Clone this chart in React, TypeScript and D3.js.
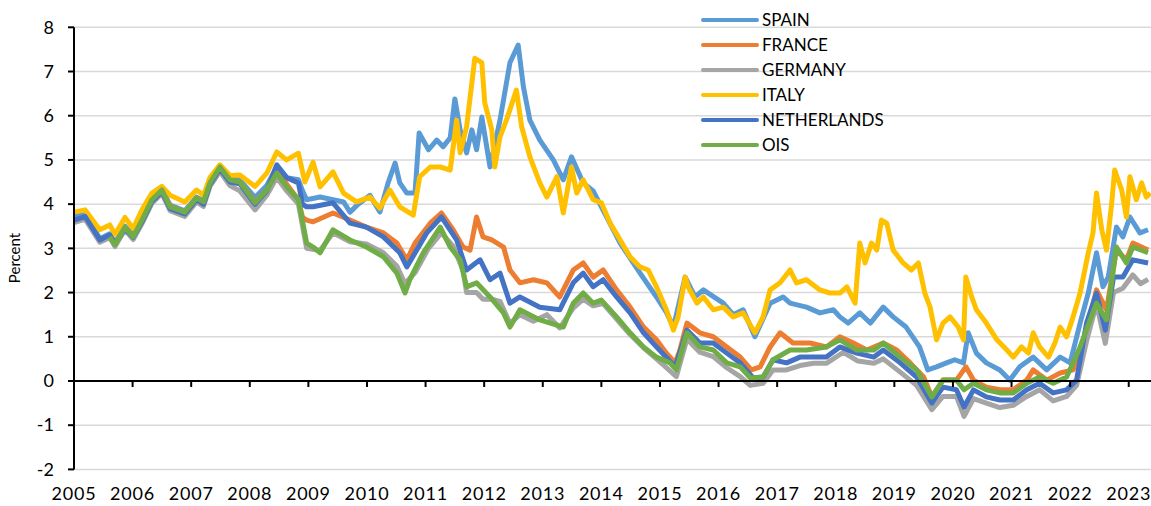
import React from "react";
import * as d3 from "d3";

// chart size
const W = 1151;
const H = 506;

// 10-year government bond yields vs OIS, percent
const seriesNames = ["SPAIN", "FRANCE", "GERMANY", "ITALY", "NETHERLANDS", "OIS"];
const seriesColors = ["#5B9BD5", "#ED7D31", "#A5A5A5", "#FFC000", "#4472C4", "#70AD47"];
const yearTicks = d3.range(2005, 2024);
const valueTicks = d3.range(-2, 9);

const spain: [number, number][] = [
  [2005.0, 3.72], [2005.19, 3.78], [2005.44, 3.22], [2005.61, 3.33], [2005.7, 3.12], [2005.87, 3.5],
  [2006.01, 3.3], [2006.16, 3.68], [2006.33, 4.12], [2006.5, 4.33], [2006.64, 3.98], [2006.89, 3.85],
  [2007.09, 4.16], [2007.21, 4.07], [2007.32, 4.5], [2007.49, 4.86], [2007.66, 4.57], [2007.83, 4.55],
  [2008.09, 4.15], [2008.29, 4.42], [2008.46, 4.85], [2008.63, 4.6], [2008.83, 4.55], [2008.9, 4.3],
  [2008.97, 4.1], [2009.2, 4.16], [2009.42, 4.1], [2009.6, 4.05], [2009.71, 3.82], [2009.85, 4.0],
  [2010.05, 4.2], [2010.22, 3.82], [2010.36, 4.48], [2010.48, 4.93], [2010.56, 4.48], [2010.68, 4.25],
  [2010.82, 4.25], [2010.89, 5.61], [2011.05, 5.23], [2011.19, 5.45], [2011.3, 5.3], [2011.42, 5.5],
  [2011.5, 6.38], [2011.59, 5.68], [2011.7, 5.16], [2011.79, 5.68], [2011.87, 5.23], [2011.96, 5.97],
  [2012.1, 4.84], [2012.27, 5.9], [2012.44, 7.2], [2012.58, 7.6], [2012.67, 6.65], [2012.78, 5.9],
  [2012.95, 5.45], [2013.18, 5.0], [2013.35, 4.55], [2013.49, 5.07], [2013.69, 4.48], [2013.86, 4.3],
  [2014.0, 3.94], [2014.32, 3.12], [2014.66, 2.44], [2014.94, 1.9], [2015.11, 1.55], [2015.23, 1.22],
  [2015.43, 2.35], [2015.6, 1.9], [2015.74, 2.06], [2016.08, 1.76], [2016.25, 1.5], [2016.42, 1.61],
  [2016.62, 1.0], [2016.88, 1.76], [2017.1, 1.9], [2017.22, 1.76], [2017.5, 1.67], [2017.73, 1.54],
  [2017.96, 1.61], [2018.07, 1.45], [2018.21, 1.31], [2018.41, 1.54], [2018.59, 1.31], [2018.81, 1.67],
  [2018.98, 1.45], [2019.2, 1.22], [2019.43, 0.77], [2019.57, 0.25], [2019.72, 0.32], [2019.89, 0.41],
  [2020.03, 0.48], [2020.18, 0.41], [2020.26, 1.09], [2020.4, 0.63], [2020.57, 0.41], [2020.8, 0.25],
  [2020.97, 0.02], [2021.14, 0.32], [2021.37, 0.54], [2021.6, 0.25], [2021.83, 0.54], [2022.0, 0.41],
  [2022.17, 1.31], [2022.31, 1.99], [2022.45, 2.9], [2022.56, 2.13], [2022.65, 2.35], [2022.79, 3.48],
  [2022.9, 3.26], [2023.02, 3.71], [2023.19, 3.35], [2023.33, 3.42],
];

const france: [number, number][] = [
  [2005.0, 3.6], [2005.19, 3.7], [2005.44, 3.18], [2005.61, 3.28], [2005.7, 3.1], [2005.87, 3.47],
  [2006.01, 3.27], [2006.16, 3.62], [2006.33, 4.08], [2006.5, 4.3], [2006.64, 3.95], [2006.89, 3.82],
  [2007.09, 4.13], [2007.21, 4.04], [2007.32, 4.47], [2007.49, 4.83], [2007.66, 4.54], [2007.83, 4.5],
  [2008.09, 4.05], [2008.29, 4.32], [2008.46, 4.78], [2008.63, 4.45], [2008.83, 4.1], [2008.9, 3.7],
  [2008.97, 3.64], [2009.08, 3.6], [2009.42, 3.8], [2009.71, 3.64], [2009.99, 3.48], [2010.28, 3.35],
  [2010.51, 3.12], [2010.68, 2.74], [2010.82, 3.12], [2011.08, 3.57], [2011.27, 3.8], [2011.47, 3.42],
  [2011.64, 3.03], [2011.76, 2.96], [2011.87, 3.71], [2011.98, 3.26], [2012.13, 3.19], [2012.33, 3.03],
  [2012.44, 2.51], [2012.61, 2.22], [2012.84, 2.29], [2013.07, 2.22], [2013.29, 1.9], [2013.52, 2.51],
  [2013.69, 2.67], [2013.86, 2.35], [2014.03, 2.51], [2014.26, 2.06], [2014.49, 1.67], [2014.72, 1.22],
  [2014.94, 0.93], [2015.11, 0.63], [2015.26, 0.41], [2015.34, 0.7], [2015.46, 1.31], [2015.68, 1.09],
  [2015.91, 1.0], [2016.14, 0.77], [2016.37, 0.54], [2016.56, 0.25], [2016.71, 0.32], [2016.88, 0.77],
  [2017.05, 1.09], [2017.27, 0.86], [2017.56, 0.86], [2017.84, 0.77], [2018.07, 1.0], [2018.3, 0.86],
  [2018.53, 0.7], [2018.81, 0.86], [2019.04, 0.7], [2019.27, 0.41], [2019.5, 0.09], [2019.64, -0.36],
  [2019.83, 0.02], [2020.06, 0.02], [2020.22, 0.32], [2020.35, 0.02], [2020.57, -0.14], [2020.8, -0.2],
  [2021.03, -0.2], [2021.26, 0.02], [2021.37, 0.25], [2021.6, 0.02], [2021.83, 0.18], [2022.05, 0.25],
  [2022.22, 0.86], [2022.45, 2.06], [2022.62, 1.61], [2022.79, 2.96], [2022.96, 2.74], [2023.07, 3.12],
  [2023.33, 2.96],
];

const germany: [number, number][] = [
  [2005.0, 3.58], [2005.19, 3.66], [2005.44, 3.14], [2005.61, 3.24], [2005.7, 3.04], [2005.87, 3.42],
  [2006.01, 3.2], [2006.16, 3.56], [2006.33, 4.02], [2006.5, 4.24], [2006.64, 3.85], [2006.89, 3.72],
  [2007.09, 4.05], [2007.21, 3.95], [2007.32, 4.4], [2007.49, 4.74], [2007.66, 4.42], [2007.83, 4.3],
  [2008.09, 3.87], [2008.29, 4.2], [2008.46, 4.6], [2008.63, 4.3], [2008.83, 4.0], [2008.97, 3.0],
  [2009.2, 2.95], [2009.42, 3.35], [2009.71, 3.15], [2009.99, 3.1], [2010.28, 2.9], [2010.51, 2.6],
  [2010.65, 2.2], [2010.82, 2.45], [2011.05, 3.0], [2011.27, 3.35], [2011.47, 3.05], [2011.64, 2.5],
  [2011.7, 2.0], [2011.87, 2.0], [2011.98, 1.85], [2012.13, 1.85], [2012.27, 1.8], [2012.44, 1.3],
  [2012.61, 1.5], [2012.84, 1.35], [2013.07, 1.5], [2013.29, 1.2], [2013.52, 1.65], [2013.69, 1.85],
  [2013.86, 1.7], [2014.03, 1.75], [2014.26, 1.4], [2014.49, 1.05], [2014.72, 0.75], [2014.94, 0.5],
  [2015.11, 0.3], [2015.28, 0.1], [2015.46, 0.95], [2015.68, 0.65], [2015.91, 0.55], [2016.14, 0.3],
  [2016.37, 0.1], [2016.54, -0.1], [2016.76, -0.05], [2016.93, 0.25], [2017.16, 0.25], [2017.39, 0.35],
  [2017.62, 0.4], [2017.84, 0.4], [2018.13, 0.65], [2018.38, 0.45], [2018.65, 0.4], [2018.81, 0.5],
  [2019.1, 0.2], [2019.38, -0.1], [2019.64, -0.65], [2019.83, -0.35], [2020.06, -0.35], [2020.19, -0.8],
  [2020.35, -0.4], [2020.57, -0.5], [2020.8, -0.6], [2021.03, -0.55], [2021.26, -0.35], [2021.48, -0.2],
  [2021.71, -0.45], [2021.94, -0.35], [2022.11, -0.1], [2022.28, 0.9], [2022.45, 1.75], [2022.6, 0.85],
  [2022.74, 2.0], [2022.9, 2.1], [2023.07, 2.4], [2023.2, 2.2], [2023.33, 2.3],
];

const italy: [number, number][] = [
  [2005.0, 3.82], [2005.19, 3.87], [2005.44, 3.42], [2005.61, 3.53], [2005.7, 3.32], [2005.87, 3.7],
  [2006.01, 3.45], [2006.16, 3.87], [2006.33, 4.25], [2006.5, 4.4], [2006.64, 4.2], [2006.89, 4.05],
  [2007.09, 4.32], [2007.21, 4.2], [2007.32, 4.6], [2007.49, 4.89], [2007.66, 4.65], [2007.83, 4.66],
  [2008.09, 4.4], [2008.29, 4.7], [2008.46, 5.18], [2008.63, 5.0], [2008.83, 5.15], [2008.94, 4.5],
  [2009.08, 4.95], [2009.2, 4.39], [2009.42, 4.73], [2009.6, 4.25], [2009.82, 4.05], [2010.05, 4.16],
  [2010.22, 3.91], [2010.39, 4.32], [2010.56, 3.94], [2010.79, 3.75], [2010.9, 4.62], [2011.08, 4.84],
  [2011.25, 4.84], [2011.42, 4.77], [2011.53, 5.9], [2011.59, 5.16], [2011.7, 5.75], [2011.84, 7.3],
  [2011.96, 7.2], [2012.01, 6.29], [2012.13, 5.68], [2012.18, 4.84], [2012.27, 5.52], [2012.38, 5.9],
  [2012.55, 6.58], [2012.64, 5.75], [2012.78, 5.07], [2012.95, 4.48], [2013.07, 4.16], [2013.24, 4.62],
  [2013.35, 3.8], [2013.49, 4.84], [2013.58, 4.25], [2013.69, 4.55], [2013.86, 4.1], [2014.0, 4.03],
  [2014.15, 3.57], [2014.32, 3.19], [2014.49, 2.81], [2014.66, 2.58], [2014.8, 2.51], [2014.94, 2.13],
  [2015.11, 1.61], [2015.23, 1.15], [2015.31, 1.45], [2015.43, 2.35], [2015.48, 2.13], [2015.63, 1.76],
  [2015.74, 1.9], [2015.91, 1.61], [2016.08, 1.67], [2016.25, 1.45], [2016.42, 1.54], [2016.62, 1.09],
  [2016.76, 1.45], [2016.88, 2.06], [2017.05, 2.22], [2017.22, 2.51], [2017.33, 2.22], [2017.5, 2.29],
  [2017.73, 2.06], [2017.9, 1.99], [2018.07, 1.99], [2018.19, 2.13], [2018.33, 1.76], [2018.41, 3.12],
  [2018.5, 2.67], [2018.61, 3.12], [2018.7, 2.96], [2018.78, 3.64], [2018.87, 3.57], [2018.98, 2.96],
  [2019.15, 2.67], [2019.29, 2.51], [2019.41, 2.67], [2019.52, 1.99], [2019.61, 1.67], [2019.72, 0.93],
  [2019.83, 1.31], [2019.95, 1.45], [2020.09, 1.22], [2020.18, 0.93], [2020.22, 2.35], [2020.32, 1.9],
  [2020.4, 1.61], [2020.57, 1.31], [2020.75, 0.93], [2020.92, 0.7], [2021.03, 0.54], [2021.17, 0.77],
  [2021.29, 0.63], [2021.37, 1.09], [2021.48, 0.77], [2021.63, 0.54], [2021.74, 0.86], [2021.83, 1.22],
  [2021.94, 1.0], [2022.05, 1.45], [2022.17, 1.99], [2022.31, 2.9], [2022.39, 3.35], [2022.45, 4.25],
  [2022.54, 3.42], [2022.62, 2.96], [2022.71, 4.03], [2022.76, 4.77], [2022.88, 4.32], [2022.96, 3.71],
  [2023.02, 4.62], [2023.13, 4.1], [2023.22, 4.48], [2023.3, 4.16], [2023.37, 4.25],
];

const netherlands: [number, number][] = [
  [2005.0, 3.64], [2005.19, 3.72], [2005.44, 3.19], [2005.61, 3.3], [2005.7, 3.1], [2005.87, 3.45],
  [2006.01, 3.25], [2006.16, 3.6], [2006.33, 4.06], [2006.5, 4.28], [2006.64, 3.9], [2006.89, 3.78],
  [2007.09, 4.1], [2007.21, 4.0], [2007.32, 4.44], [2007.49, 4.8], [2007.66, 4.5], [2007.83, 4.46],
  [2008.09, 4.0], [2008.29, 4.3], [2008.46, 4.89], [2008.63, 4.6], [2008.83, 4.48], [2008.9, 4.0],
  [2008.97, 3.94], [2009.08, 3.94], [2009.42, 4.03], [2009.71, 3.57], [2009.99, 3.48], [2010.28, 3.26],
  [2010.56, 2.9], [2010.68, 2.58], [2011.02, 3.35], [2011.27, 3.71], [2011.53, 3.19], [2011.7, 2.51],
  [2011.93, 2.74], [2012.1, 2.29], [2012.27, 2.44], [2012.44, 1.76], [2012.61, 1.9], [2012.95, 1.67],
  [2013.29, 1.61], [2013.52, 2.22], [2013.69, 2.44], [2013.86, 2.13], [2014.03, 2.29], [2014.26, 1.9],
  [2014.49, 1.54], [2014.72, 1.09], [2014.94, 0.77], [2015.26, 0.32], [2015.46, 1.15], [2015.68, 0.86],
  [2015.91, 0.86], [2016.14, 0.63], [2016.37, 0.41], [2016.59, 0.07], [2016.76, 0.09], [2016.93, 0.48],
  [2017.16, 0.41], [2017.39, 0.54], [2017.62, 0.54], [2017.84, 0.54], [2018.07, 0.77], [2018.36, 0.63],
  [2018.65, 0.54], [2018.81, 0.7], [2019.1, 0.41], [2019.38, 0.09], [2019.64, -0.5], [2019.83, -0.14],
  [2020.06, -0.2], [2020.19, -0.59], [2020.35, -0.2], [2020.57, -0.36], [2020.8, -0.43], [2021.03, -0.43],
  [2021.26, -0.2], [2021.48, -0.05], [2021.71, -0.27], [2021.94, -0.2], [2022.11, 0.02], [2022.28, 1.31],
  [2022.45, 1.99], [2022.6, 1.15], [2022.74, 2.35], [2022.9, 2.35], [2023.07, 2.74], [2023.33, 2.67],
];

const ois: [number, number][] = [
  [2005.61, 3.26], [2005.7, 3.08], [2005.87, 3.48], [2006.01, 3.26], [2006.16, 3.64], [2006.33, 4.1],
  [2006.5, 4.32], [2006.64, 3.94], [2006.89, 3.82], [2007.09, 4.14], [2007.21, 4.05], [2007.32, 4.48],
  [2007.49, 4.84], [2007.66, 4.55], [2007.83, 4.5], [2008.09, 4.03], [2008.29, 4.32], [2008.46, 4.7],
  [2008.63, 4.39], [2008.83, 4.1], [2008.97, 3.12], [2009.08, 3.03], [2009.2, 2.9], [2009.42, 3.42],
  [2009.71, 3.19], [2009.99, 3.03], [2010.28, 2.81], [2010.51, 2.44], [2010.65, 1.99], [2010.73, 2.29],
  [2010.96, 2.9], [2011.25, 3.48], [2011.42, 3.03], [2011.59, 2.74], [2011.7, 2.13], [2011.87, 2.22],
  [2012.1, 1.9], [2012.33, 1.54], [2012.44, 1.22], [2012.61, 1.61], [2012.95, 1.38], [2013.35, 1.22],
  [2013.52, 1.76], [2013.69, 1.99], [2013.86, 1.76], [2014.0, 1.83], [2014.26, 1.45], [2014.49, 1.09],
  [2014.72, 0.77], [2014.94, 0.54], [2015.17, 0.41], [2015.28, 0.25], [2015.46, 1.09], [2015.68, 0.77],
  [2015.91, 0.7], [2016.14, 0.41], [2016.37, 0.32], [2016.54, 0.07], [2016.76, 0.09], [2016.93, 0.48],
  [2017.22, 0.7], [2017.5, 0.7], [2017.84, 0.77], [2018.07, 0.93], [2018.36, 0.7], [2018.65, 0.7],
  [2018.81, 0.86], [2019.1, 0.54], [2019.38, 0.25], [2019.64, -0.36], [2019.83, 0.02], [2020.06, 0.02],
  [2020.19, -0.2], [2020.35, -0.05], [2020.57, -0.2], [2020.8, -0.27], [2021.03, -0.27], [2021.26, -0.05],
  [2021.48, 0.09], [2021.71, -0.05], [2021.94, 0.09], [2022.17, 0.77], [2022.45, 1.76], [2022.62, 1.38],
  [2022.79, 3.03], [2022.96, 2.67], [2023.07, 3.03], [2023.33, 2.9],
];

const seriesData = [spain, france, germany, italy, netherlands, ois];

export default function App() {
  const x = d3.scaleLinear().domain([2005, 2023.38]).range([74, 1151]);
  const y = d3.scaleLinear().domain([-2, 8]).range([469.4, 27.3]);
  const line = d3
    .line<[number, number]>()
    .x((d) => x(d[0]))
    .y((d) => y(d[1]));

  const font = "Lato, 'Open Sans', sans-serif";

  return (
    <svg
      width={W}
      height={H}
      style={{ position: "absolute", left: 0, top: 0, background: "#fff" }}
      fontFamily={font}
    >
      {/* Gridlines */}
      {valueTicks
        .filter((v) => v !== 0)
        .map((v) => (
          <line key={"g" + v} x1={x(2005)} x2={W} y1={y(v)} y2={y(v)} stroke="#d9d9d9" strokeWidth={1.5} />
        ))}

      {/* Legend */}
      {seriesNames.map((name, i) => (
        <g key={name} transform={`translate(703, ${20 + i * 25})`}>
          <line x1={0} x2={54} y1={0} y2={0} stroke={seriesColors[i]} strokeWidth={4} strokeLinecap="round" />
          <text x={59} y={0} dy="0.35em" fontSize={17} fill="#000">
            {name}
          </text>
        </g>
      ))}

      {/* Series */}
      {seriesData.map((d, i) => (
        <path
          key={seriesNames[i]}
          d={line(d) || ""}
          fill="none"
          stroke={seriesColors[i]}
          strokeWidth={5}
          strokeLinejoin="round"
        />
      ))}

      {/* Y axis */}
      <line x1={x(2005)} x2={x(2005)} y1={y(8)} y2={y(-2)} stroke="#000" strokeWidth={2} />
      {valueTicks.map((v) => (
        <g key={"y" + v}>
          <line x1={x(2005) - 6} x2={x(2005)} y1={y(v)} y2={y(v)} stroke="#000" strokeWidth={2} />
          <text x={54} y={y(v)} dy="0.35em" textAnchor="end" fontSize={18} fill="#000">
            {v}
          </text>
        </g>
      ))}

      {/* X axis at zero */}
      <line x1={x(2005)} x2={W} y1={y(0)} y2={y(0)} stroke="#000" strokeWidth={2} />
      {yearTicks.map((yr) => (
        <g key={"x" + yr}>
          <line x1={x(yr)} x2={x(yr)} y1={y(0)} y2={y(0) + 6} stroke="#000" strokeWidth={2} />
          <text x={x(yr)} y={500} textAnchor="middle" fontSize={18} letterSpacing={0.8} fill="#000">
            {yr}
          </text>
        </g>
      ))}

      <text
        transform={`translate(20, 258) rotate(-90)`}
        textAnchor="middle"
        fontSize={15}
        fill="#000"
      >
        Percent
      </text>
    </svg>
  );
}
